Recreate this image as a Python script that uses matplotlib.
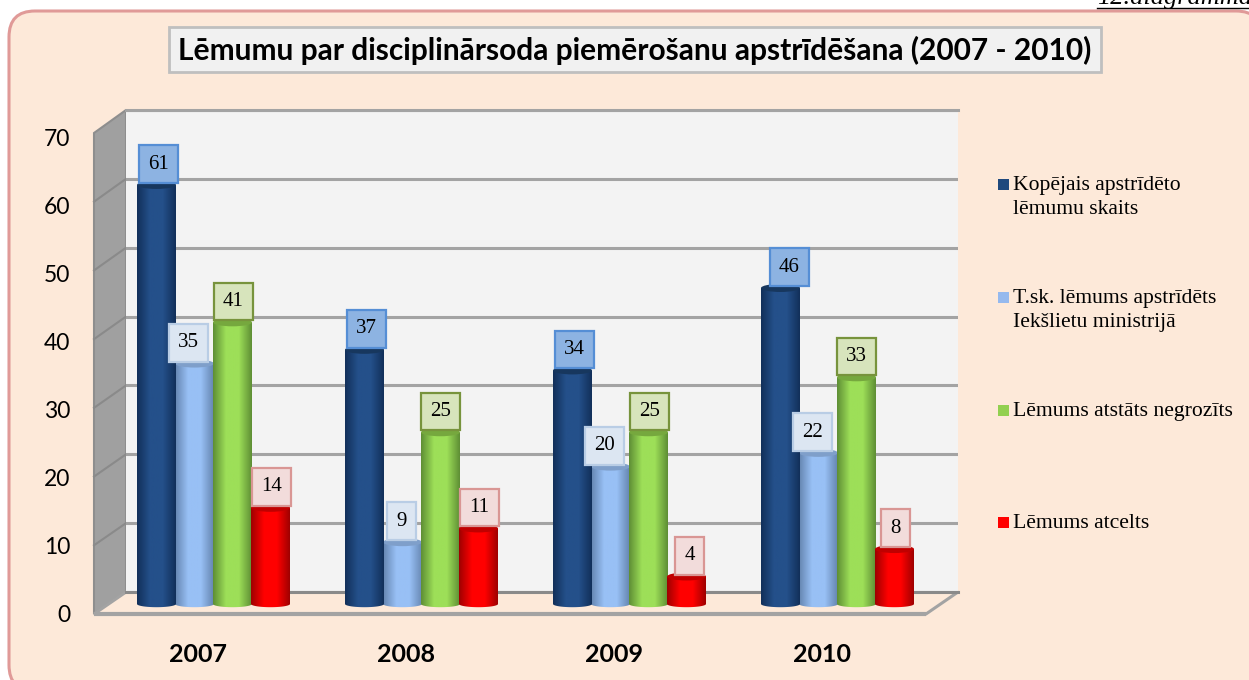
import numpy as np
import matplotlib
matplotlib.use("Agg")
import matplotlib.pyplot as plt
from matplotlib.colors import LinearSegmentedColormap
from matplotlib.patches import Ellipse, FancyBboxPatch, Polygon, Rectangle

W, H = 1249, 680

# data
years = ["2007", "2008", "2009", "2010"]
kopejais = [61, 37, 34, 46]
iekslietu = [35, 9, 20, 22]
negrozits = [41, 25, 25, 33]
atcelts = [14, 11, 4, 8]
y_ticks = [0, 10, 20, 30, 40, 50, 60, 70]

title = "Lēmumu par disciplinārsoda piemērošanu apstrīdēšana (2007 - 2010)"
legend_labels = [
    "Kopējais apstrīdēto\nlēmumu skaits",
    "T.sk. lēmums apstrīdēts\nIekšlietu ministrijā",
    "Lēmums atstāts negrozīts",
    "Lēmums atcelts",
]

PANEL = "#fde9d9"
GRID = "#a3a3a3"
SANS = "Lato"
SERIF = "Liberation Serif"

# fill, edge shade, centre shade, cap, label fill, label edge
styles = {
    "kopejais": ("#1f497d", "#12305a", "#24508a", "#17375e", "#8db3e2", "#558ed5"),
    "iekslietu": ("#95b9ee", "#6585b0", "#98c0f5", "#7f9fca", "#dce6f2", "#b9cde5"),
    "negrozits": ("#92d050", "#5f8f35", "#9ddf58", "#76a83e", "#d7e4bc", "#77933c"),
    "atcelts": ("#ff0000", "#a00000", "#ff0000", "#c00000", "#f2dcdb", "#d99694"),
}


def px_axes(fig, left, right, top, bottom, **kw):
    # axes placed by pixel edges, y measured from the top of the image
    return fig.add_axes([left / W, 1 - bottom / H, (right - left) / W, (bottom - top) / H], **kw)


fig = plt.figure(figsize=(W / 100, H / 100), dpi=100, facecolor="white")

# pixel canvas for the frame and the 3d box
bg = px_axes(fig, 0, W, 0, H)
bg.set_xlim(0, W)
bg.set_ylim(H, 0)
bg.axis("off")
bg.add_patch(FancyBboxPatch((9, 11), 1253, 680, boxstyle="round,pad=0,rounding_size=26",
                            fc=PANEL, ec="#e09a98", lw=2.2))

# side wall and floor
bg.add_patch(Polygon([(94, 133), (126, 110), (126, 592), (94, 614)], fc="#a0a0a0", ec="#8e8e8e", lw=1.5, zorder=2))
bg.add_patch(Polygon([(94, 614), (126, 592), (958, 592), (926, 614)], fc=PANEL, ec=GRID, lw=2.2, zorder=2))

# back wall
wall = px_axes(fig, 126, 958, 110, 592, facecolor="#f3f3f3", zorder=1)
wall.set_xlim(0, 1)
wall.set_ylim(0, 70)
wall.set_yticks(y_ticks)
wall.grid(axis="y", color=GRID, lw=2.2)
wall.tick_params(left=False, bottom=False, labelleft=False, labelbottom=False)
for s in wall.spines.values():
    s.set_visible(False)
wall.spines["top"].set_visible(True)
wall.spines["top"].set_color(GRID)
wall.spines["top"].set_linewidth(2.2)
wall.spines["bottom"].set_visible(True)
wall.spines["bottom"].set_color("#8a8a8a")
wall.spines["bottom"].set_linewidth(2.2)

# grid lines carried over the side wall
for t in y_ticks[1:-1]:
    yb = 592 - t * (592 - 110) / 70
    yf = 614 - t * (614 - 133) / 70
    bg.plot([94, 126], [yf, yb], color="#8a8a8a", lw=1.5, zorder=3)
bg.plot([94, 926], [614, 614], color=GRID, lw=3, zorder=3, solid_capstyle="butt")

# axis labels sit on the front edge of the box
x_left = (94 + 16 - 213.5) / 208
x_right = (958 + 16 - 213.5) / 208
front = px_axes(fig, 94, 958, 137, 613, facecolor="none", zorder=2)
front.set_xlim(x_left, x_right)
front.set_ylim(0, 70)
front.set_yticks(y_ticks)
front.set_xticks(range(len(years)))
front.set_xticklabels(years, family=SANS, fontweight="bold", fontsize=18)
front.tick_params(axis="y", length=0, pad=17, labelsize=16.5)
front.tick_params(axis="x", length=0, pad=21.5)
for lab in front.get_yticklabels():
    lab.set_family(SANS)
for s in front.spines.values():
    s.set_visible(False)

# bars
ax = px_axes(fig, 94, 958, 100, 625, facecolor="none", zorder=3)
xlim = ((94 - 213.5) / 208, (958 - 213.5) / 208)
ylim = ((604 - 625) / 6.87, (604 - 100) / 6.87)
ax.axis("off")

bar_w = 39 / 208
step = 38 / 208
series = [
    ("iekslietu", iekslietu, -0.5),
    ("kopejais", kopejais, -1.5),
    ("negrozits", negrozits, 0.5),
    ("atcelts", atcelts, 1.5),
]
# label boxes do not sit exactly over their bars in the original
label_nudge = {
    "kopejais": [2, 2, 2, 9],
    "iekslietu": [-6, -1, -6, -6],
    "negrozits": [1, 0, 1, 0],
    "atcelts": [1, 1, 3, 1],
}
cap_h = 8 / 6.87

for z, (name, values, slot) in enumerate(series):
    fill, shade, mid, cap, box_fc, box_ec = styles[name]
    cmap = LinearSegmentedColormap.from_list(name, [shade, mid, mid, shade], N=64)
    grad = np.linspace(0, 1, 64).reshape(1, -1)
    xs = np.arange(len(years)) + slot * step
    zbase = 3 + z
    bars = ax.bar(xs, values, width=bar_w, color=fill, zorder=zbase)
    for x, v, b, nudge in zip(xs, values, bars, label_nudge[name]):
        x0 = x - bar_w / 2
        x1 = x + bar_w / 2
        t = np.linspace(np.pi, 2 * np.pi, 24)
        outline = np.column_stack([x + bar_w / 2 * np.cos(t), cap_h * 0.4 * np.sin(t)])
        outline = np.vstack([[x0, v], outline, [x1, v], [x0, v]])
        body = Polygon(outline, transform=ax.transData, fc="none", ec="none")
        ax.add_patch(body)
        b.set_visible(False)
        im = ax.imshow(grad, extent=[x0, x1, -cap_h, v], cmap=cmap, aspect="auto", zorder=zbase)
        im.set_clip_path(body)
        ax.add_patch(Ellipse((x, v), bar_w, cap_h, fc=cap, ec="none", zorder=zbase + 0.1))
        ax.annotate(str(v), (x, v), xytext=(nudge * 0.72, 15), textcoords="offset points",
                    ha="center", va="center", family=SERIF, fontsize=15, color="black", zorder=20,
                    bbox=dict(boxstyle="square,pad=0.45", fc=box_fc, ec=box_ec, lw=1.6))
ax.set_xlim(*xlim)
ax.set_ylim(*ylim)

# title box
top = px_axes(fig, 0, W, 0, H, facecolor="none", zorder=5)
top.set_xlim(0, W)
top.set_ylim(H, 0)
top.axis("off")
top.add_patch(Rectangle((169, 27), 932, 45, fc="#f1f1f1", ec="#bfbfbf", lw=2))
top.text(635, 50, title, ha="center", va="center", family=SANS, fontweight="bold", fontsize=21.5, color="black")

# legend
leg_colors = [styles[k][0] for k in ("kopejais", "iekslietu", "negrozits", "atcelts")]
leg_y = [184, 297, 410, 522]
for c, y, lab in zip(leg_colors, leg_y, legend_labels):
    top.add_patch(Rectangle((998, y - 5), 11, 11, fc=c, ec="none"))
    top.text(1013, y - 8, lab, ha="left", va="top", family=SERIF, fontsize=15.6, linespacing=1.36, color="black")

# page caption, cut off by the top of the image
top.text(1097, 4, "12.diagramma", ha="left", va="baseline", family=SERIF, style="italic",
         fontsize=19, color="black", clip_on=True)
top.plot([1097, 1249], [8, 8], color="black", lw=1)

fig.savefig("out.png", dpi=100)
